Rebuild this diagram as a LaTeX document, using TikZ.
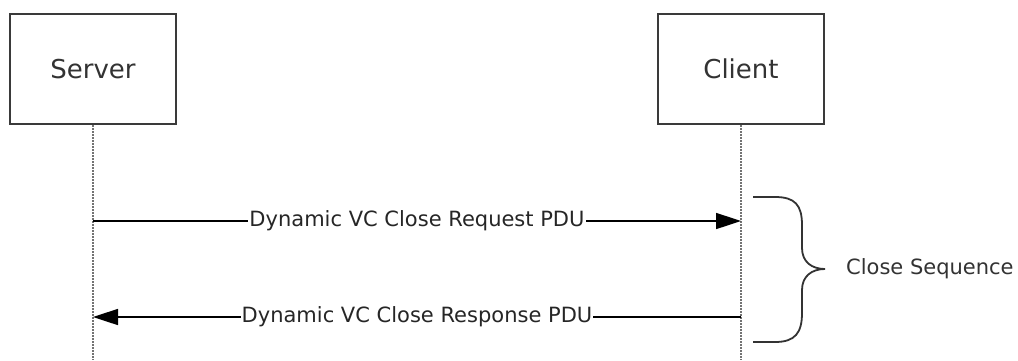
\documentclass[tikz,border=0pt]{standalone}
\usepackage{fontspec}
\setmainfont{DejaVu Sans}
\usetikzlibrary{arrows.meta,positioning}
\definecolor{boxgray}{HTML}{3A3A3A}
\definecolor{textgray}{HTML}{333333}

\begin{document}
\begin{tikzpicture}[x=1pt,y=-1pt,>={Triangle[length=25pt,width=16pt]},node distance=648pt,
  actor/.style={draw=boxgray,line width=2pt,minimum width=166pt,minimum height=110pt,
    text=textgray,font=\fontsize{26}{30}\selectfont},
  lifeline/.style={black!55,line width=2pt,dash pattern=on 1.5pt off 1.5pt},
  msg/.style={->,line width=1.6pt},
  msglabel/.style={fill=white,inner xsep=1pt,inner ysep=0pt,text=black!85,font=\fontsize{21}{25}\selectfont},
  brace/.style={draw=textgray,line width=1.8pt},
  note/.style={inner sep=0pt,text=textgray,font=\fontsize{21}{25}\selectfont}]
  \useasboundingbox[fill=white] (0,0) rectangle (1018,360);

  \node[actor] (S) at (93,69) {Server};
  \node[actor] (C) [right of=S] {Client};

  \coordinate (Sbot) at (S.south |- 0,360);
  \coordinate (Cbot) at (C.south |- 0,360);
  \draw[lifeline] (S.south) -- (Sbot);
  \draw[lifeline] (C.south) -- (Cbot);

  \coordinate (S1) at (S.south |- 0,221);
  \coordinate (C1) at (C.south |- 0,221);
  \coordinate (S2) at (S.south |- 0,317);
  \coordinate (C2) at (C.south |- 0,317);

  \path[every node/.style={msglabel}]
  (S1) edge[msg] node {Dynamic VC Close Request PDU} (C1)
  (C2) edge[msg] node {Dynamic VC Close Response PDU} (S2)
  ;

  % brace round both messages
  \coordinate (tip) at (825,269);
  \draw[brace] (753,197) -- (775,197) .. controls (795,197) and (802,205) .. (802,225)
    -- (802,248) .. controls (802,262) and (812,269) .. (tip)
    .. controls (812,269) and (802,276) .. (802,290)
    -- (802,313) .. controls (802,333) and (795,342) .. (775,342) -- (753,342);
  \node[note] (seq) [right=21pt of tip] {Close Sequence};
\end{tikzpicture}
\end{document}
